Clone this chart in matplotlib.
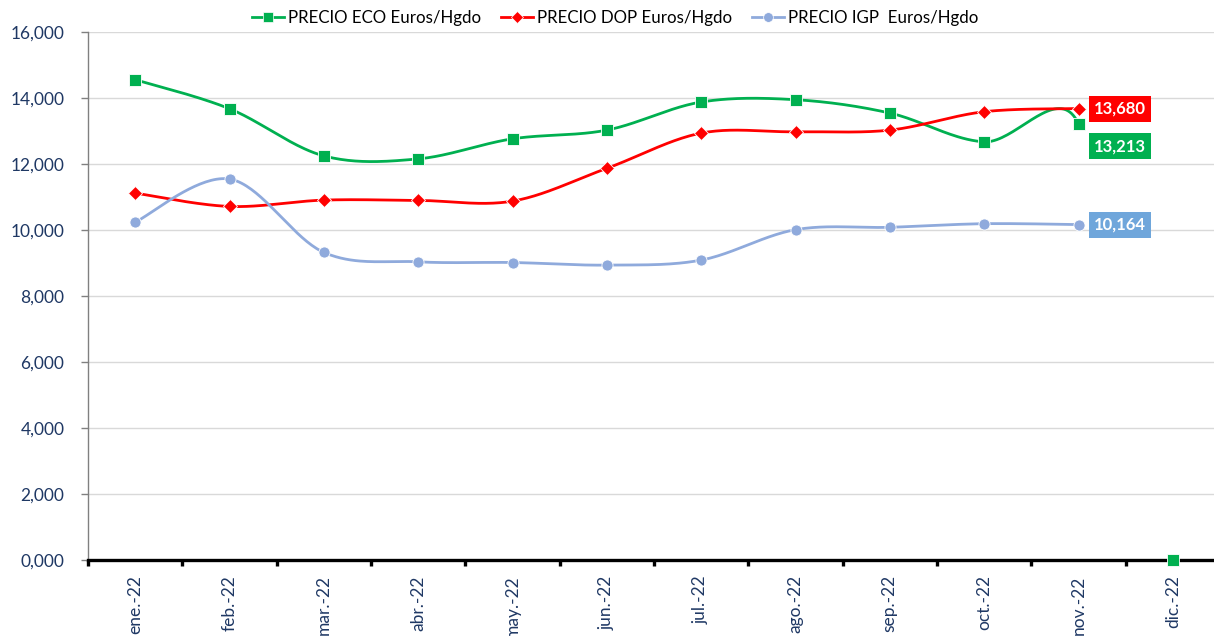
import numpy as np
import matplotlib
matplotlib.use("Agg")
import matplotlib.pyplot as plt
from matplotlib.lines import Line2D

# ---- data ----
months = ["ene.-22", "feb.-22", "mar.-22", "abr.-22", "may.-22", "jun.-22",
          "jul.-22", "ago.-22", "sep.-22", "oct.-22", "nov.-22", "dic.-22"]
eco = [14556, 13675, 12246, 12155, 12763, 13027, 13878, 13948, 13544, 12672, 13213, 0]
dop = [11118, 10714, 10906, 10897, 10875, 11869, 12936, 12976, 13027, 13584, 13680]
igp = [10237, 11544, 9322, 9036, 9015, 8936, 9088, 10009, 10082, 10191, 10164]
yticks = [0, 2000, 4000, 6000, 8000, 10000, 12000, 14000, 16000]
ytick_labels = ["0,000", "2,000", "4,000", "6,000", "8,000", "10,000",
                "12,000", "14,000", "16,000"]
series_names = ["PRECIO ECO Euros/Hgdo", "PRECIO DOP Euros/Hgdo", "PRECIO IGP  Euros/Hgdo"]

GREEN = "#00B050"
RED = "#FF0000"
BLUE = "#8FAADC"
BLUE_LBL = "#6FA6DB"
NAVY = "#1F3864"
FONT = "Lato"

W, H, DPI = 1214, 636, 100
fig = plt.figure(figsize=(W / DPI, H / DPI), dpi=DPI)
left_px, right_px, top_px, bot_px = 88, 1220, 32, 560
ax = fig.add_axes([left_px / W, 1 - bot_px / H, (right_px - left_px) / W,
                   (bot_px - top_px) / H])
ax.set_xlim(-0.5, 11.5)
ax.set_ylim(0, 16000)

# pixel scale factors used for the smoothing geometry
sx = (right_px - left_px) / 12.0
sy = (bot_px - top_px) / 16000.0


def smooth_curve(ys, nseg, n=40):
    """Bezier smoothing through the points; returns curve up to segment nseg."""
    xs = np.arange(len(ys), dtype=float)
    P = np.column_stack([xs * sx, np.asarray(ys, float) * sy])
    m = len(P)
    out = []
    for i in range(nseg):
        p0 = P[max(i - 1, 0)]
        p1 = P[i]
        p2 = P[i + 1]
        p3 = P[min(i + 2, m - 1)]
        chord = np.linalg.norm(p2 - p1)
        t1 = (p2 - p0) / 6.0
        t2 = (p3 - p1) / 6.0
        for t in (t1, t2):
            L = np.linalg.norm(t)
            if L > 0.5 * chord:
                t *= 0.5 * chord / L
        c1 = p1 + t1
        c2 = p2 - t2
        tt = np.linspace(0, 1, n)[:, None]
        seg = ((1 - tt) ** 3) * p1 + 3 * ((1 - tt) ** 2) * tt * c1 \
            + 3 * (1 - tt) * tt ** 2 * c2 + tt ** 3 * p2
        out.append(seg if i == 0 else seg[1:])
    c = np.vstack(out)
    return c[:, 0] / sx, c[:, 1] / sy


# gridlines
for v in yticks[1:]:
    ax.axhline(v, color="#D9D9D9", lw=1.0, zorder=0)

# lines
lw = 2.0
x_eco, y_eco = smooth_curve(eco, 10)
ax.plot(x_eco, y_eco, color=GREEN, lw=lw, zorder=3, solid_capstyle="round")
x_dop, y_dop = smooth_curve(dop, len(dop) - 1)
ax.plot(x_dop, y_dop, color=RED, lw=lw, zorder=3, solid_capstyle="round")
x_igp, y_igp = smooth_curve(igp, len(igp) - 1)
ax.plot(x_igp, y_igp, color=BLUE, lw=lw, zorder=3, solid_capstyle="round")

# markers
ax.plot(range(len(eco)), eco, ls="none", marker="s", ms=8, mfc=GREEN,
        mec="white", mew=0.6, zorder=5, clip_on=False)
ax.plot(range(len(dop)), dop, ls="none", marker="D", ms=7.5, mfc=RED,
        mec="white", mew=0.6, zorder=5)
ax.plot(range(len(igp)), igp, ls="none", marker="o", ms=8, mfc=BLUE,
        mec="white", mew=0.6, zorder=5)


def value_label(x, y, text, color, dy_pt):
    ax.annotate(text, (x, y), xytext=(30, dy_pt), textcoords="offset points",
                ha="center", va="center", color="white", fontsize=12,
                fontweight="bold", family=FONT, zorder=6, annotation_clip=False,
                bbox=dict(boxstyle="square,pad=0.3", fc=color, ec="none"))


value_label(10, dop[10], f"{dop[10]:,}", RED, 0)
value_label(10, eco[10], f"{eco[10]:,}", GREEN, -16)
value_label(10, igp[10], f"{igp[10]:,}", BLUE_LBL, 0)

# axes styling
for s in ("top", "right"):
    ax.spines[s].set_visible(False)
ax.spines["left"].set_color("#808080")
ax.spines["left"].set_linewidth(1.0)
ax.spines["bottom"].set_color("black")
ax.spines["bottom"].set_linewidth(2.4)
ax.spines["bottom"].set_zorder(4)

ax.set_yticks(yticks)
ax.set_yticklabels(ytick_labels)
ax.tick_params(axis="y", direction="out", length=5, width=1, color="#808080",
               pad=12, labelsize=12.5, labelcolor=NAVY)
for lbl in ax.get_yticklabels():
    lbl.set_family(FONT)

ax.set_xticks(range(12))
ax.set_xticklabels(months, rotation=90, va="top", ha="center")
ax.set_xticks(np.arange(-0.5, 12, 1.0), minor=True)
ax.tick_params(axis="x", which="major", length=0, pad=11, labelsize=12.5,
               labelcolor=NAVY)
ax.tick_params(axis="x", which="minor", direction="out", length=4, width=2.4,
               color="black")
for lbl in ax.get_xticklabels():
    lbl.set_family(FONT)

# legend
handles = [
    Line2D([], [], color=GREEN, lw=lw, marker="s", ms=7, mfc=GREEN, mec="white", mew=0.5),
    Line2D([], [], color=RED, lw=lw, marker="D", ms=6.5, mfc=RED, mec="white", mew=0.5),
    Line2D([], [], color=BLUE, lw=lw, marker="o", ms=7, mfc=BLUE, mec="white", mew=0.5),
]
fig.legend(handles, series_names, loc="center", bbox_to_anchor=(615 / W, 1 - 18 / H),
           ncol=3, frameon=False, handlelength=1.9, handletextpad=0.2,
           columnspacing=1.2, prop={"family": FONT, "size": 12.2})

fig.savefig("out.png", dpi=DPI)
